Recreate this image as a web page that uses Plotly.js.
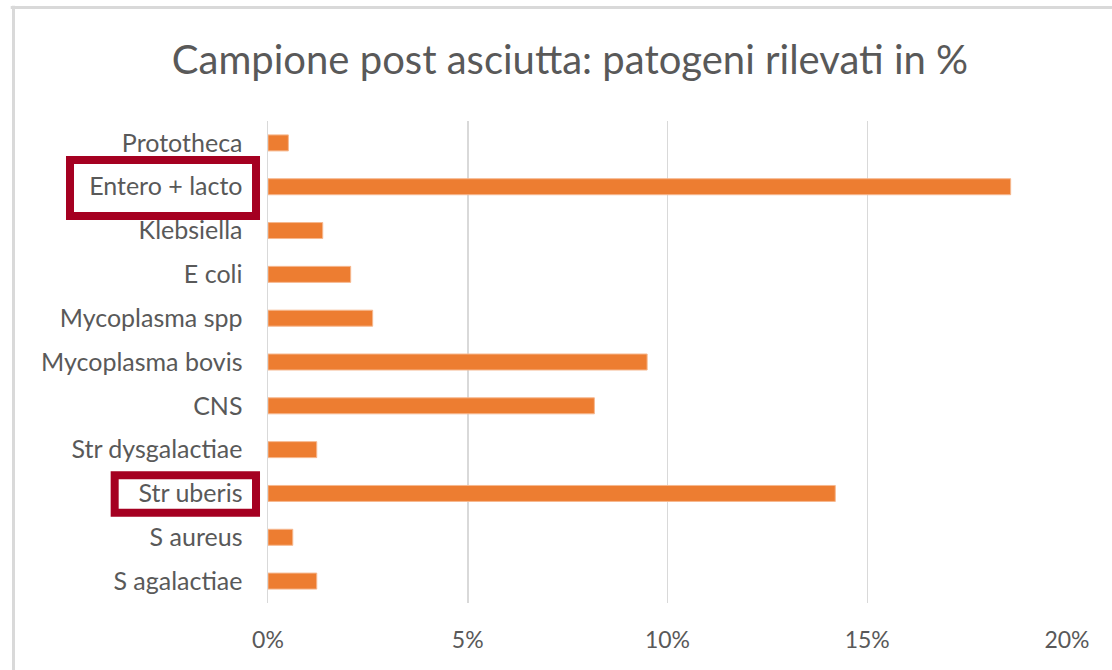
<!DOCTYPE html>
<html>
<head>
<meta charset="utf-8">
<script src="https://cdn.plot.ly/plotly-3.0.1.min.js"></script>
<style>
  html, body { margin: 0; padding: 0; background: #ffffff; }
  #chart { width: 1112px; height: 670px; }
</style>
</head>
<body>
<div id="chart"></div>
<script>
// Categories listed from top to bottom
const categories = [
  "Prototheca",
  "Entero + lacto",
  "Klebsiella",
  "E coli",
  "Mycoplasma spp",
  "Mycoplasma bovis",
  "CNS",
  "Str dysgalactiae",
  "Str uberis",
  "S aureus",
  "S agalactiae"
];
// Percent of samples (fractions)
const values = [0.0051, 0.1859, 0.0137, 0.0207, 0.0262, 0.0949, 0.0817, 0.0122, 0.1420, 0.0062, 0.0122];
const tickVals = [0, 0.05, 0.10, 0.15, 0.20];
const tickLabels = ["0%", "5%", "10%", "15%", "20%"];
const highlighted = ["Entero + lacto", "Str uberis"];

const FONT = "Lato, 'Open Sans', 'Liberation Sans', sans-serif";
const GREY = "#595959";

const trace = {
  type: "bar",
  orientation: "h",
  y: categories,
  x: values,
  marker: { color: "#ED7D31", line: { color: "#F6B88F", width: 1 } },
  hoverinfo: "skip"
};

// Highlight boxes around labels (offsets in category units)
const boxSpec = {
  "Entero + lacto": { x0: -0.2478, x1: -0.015, dy0: -0.61, dy1: 0.669 },
  "Str uberis": { x0: -0.1919, x1: -0.015, dy0: -0.418, dy1: 0.443 }
};
const shapes = highlighted.map(name => {
  const i = categories.indexOf(name);
  const s = boxSpec[name];
  return {
    type: "rect", xref: "paper", yref: "y",
    x0: s.x0, x1: s.x1, y0: i + s.dy0, y1: i + s.dy1,
    line: { color: "#A50021", width: 8 }, fillcolor: "rgba(0,0,0,0)", layer: "above"
  };
});
// outer frame (top & left edges visible)
shapes.push({ type: "line", xref: "paper", yref: "paper", x0: -0.322, x1: 1.2, y0: 1.2355, y1: 1.2355,
  line: { color: "#D9D9D9", width: 3 } });
shapes.push({ type: "line", xref: "paper", yref: "paper", x0: -0.3185, x1: -0.3185, y0: 1.239, y1: -0.3,
  line: { color: "#D9D9D9", width: 3 } });

const layout = {
  width: 1112, height: 670,
  margin: { l: 268, r: 45, t: 121, b: 67 },
  paper_bgcolor: "#ffffff", plot_bgcolor: "#ffffff",
  showlegend: false,
  bargap: 0.635,
  title: {
    text: "Campione post asciutta: patogeni rilevati in %",
    font: { family: FONT, size: 40, color: GREY },
    xref: "container", yref: "container", x: 0.5126, y: 0.91, xanchor: "center", yanchor: "middle"
  },
  xaxis: {
    range: [0, 0.20],
    tickvals: tickVals, ticktext: tickLabels,
    showgrid: true, gridcolor: "#D9D9D9", gridwidth: 1.5,
    zeroline: false, showline: false, ticks: "",
    ticklabelstandoff: 21,
    tickfont: { family: FONT, size: 23, color: GREY },
    fixedrange: true
  },
  yaxis: {
    type: "category",
    autorange: "reversed",
    showgrid: false, zeroline: false,
    showline: true, linecolor: "#D9D9D9", linewidth: 1.5,
    ticks: "", ticklabelstandoff: 19,
    tickfont: { family: FONT, size: 25, color: GREY },
    fixedrange: true
  },
  shapes: shapes
};

Plotly.newPlot("chart", [trace], layout, { displayModeBar: false, staticPlot: true });
</script>
</body>
</html>
